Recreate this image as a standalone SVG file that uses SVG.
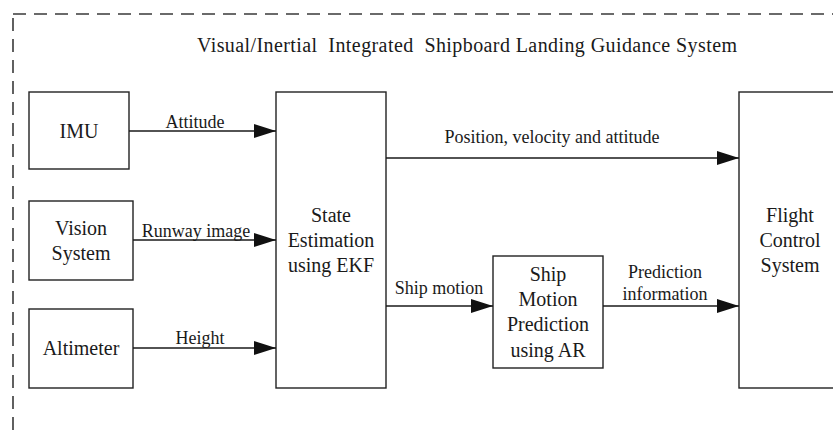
<svg xmlns="http://www.w3.org/2000/svg" width="833" height="434" viewBox="0 0 833 434">
  <style>
    .box { fill: #ffffff; stroke: #222222; stroke-width: 1.4; }
    .frame { fill: none; stroke: #3a3a3a; stroke-width: 1.6; stroke-dasharray: 13 8; }
    .link { fill: none; stroke: #1a1a1a; stroke-width: 1.4; marker-end: url(#head); }
    .t { font-family: "Liberation Serif", "Times New Roman", serif; fill: #1a1a1a; text-anchor: middle; }
    .node { font-size: 20px; }
    .lbl { font-size: 18px; }
    .title { font-size: 20px; }
  </style>
  <defs>
    <marker id="head" markerWidth="22" markerHeight="14" refX="22" refY="7" orient="auto" markerUnits="userSpaceOnUse">
      <path d="M0,0 L22,7 L0,14 Z" fill="#111111"/>
    </marker>
  </defs>
  <rect width="833" height="434" fill="#ffffff"/>

  <!-- system boundary -->
  <rect class="frame" x="13" y="14" width="850" height="450"/>
  <text class="t title" x="467" y="52" textLength="540" lengthAdjust="spacing" xml:space="preserve">Visual/Inertial  Integrated  Shipboard Landing Guidance System</text>

  <g id="imu">
    <rect class="box" x="29" y="92" width="100" height="77"/>
    <text class="t node" x="79" y="138">IMU</text>
  </g>
  <g id="vision">
    <rect class="box" x="29" y="201" width="104" height="79"/>
    <text class="t node" x="81" y="235">Vision</text>
    <text class="t node" x="81" y="260">System</text>
  </g>
  <g id="altimeter">
    <rect class="box" x="29" y="309" width="104" height="79"/>
    <text class="t node" x="81" y="355">Altimeter</text>
  </g>
  <g id="ekf">
    <rect class="box" x="276" y="92" width="110" height="296"/>
    <text class="t node" x="331" y="222">State</text>
    <text class="t node" x="331" y="247">Estimation</text>
    <text class="t node" x="331" y="272">using EKF</text>
  </g>
  <g id="ar">
    <rect class="box" x="493" y="256" width="110" height="112"/>
    <text class="t node" x="548" y="281">Ship</text>
    <text class="t node" x="548" y="306">Motion</text>
    <text class="t node" x="548" y="331">Prediction</text>
    <text class="t node" x="548" y="357">using AR</text>
  </g>
  <g id="fcs">
    <rect class="box" x="739" y="92" width="120" height="296"/>
    <text class="t node" x="790" y="222">Flight</text>
    <text class="t node" x="790" y="247">Control</text>
    <text class="t node" x="790" y="272">System</text>
  </g>

  <g id="connectors">
    <line class="link" x1="129" y1="131" x2="276" y2="131"/>
    <text class="t lbl" x="195" y="128">Attitude</text>
    <line class="link" x1="133" y1="240" x2="276" y2="240"/>
    <text class="t lbl" x="196" y="237">Runway image</text>
    <line class="link" x1="133" y1="348" x2="276" y2="348"/>
    <text class="t lbl" x="200" y="344">Height</text>
    <line class="link" x1="386" y1="158" x2="739" y2="158"/>
    <text class="t lbl" x="552" y="143">Position, velocity and attitude</text>
    <line class="link" x1="386" y1="306" x2="493" y2="306"/>
    <text class="t lbl" x="439" y="294">Ship motion</text>
    <line class="link" x1="603" y1="306" x2="739" y2="306"/>
    <text class="t lbl" x="665" y="278">Prediction</text>
    <text class="t lbl" x="665" y="300">information</text>
  </g>
</svg>
